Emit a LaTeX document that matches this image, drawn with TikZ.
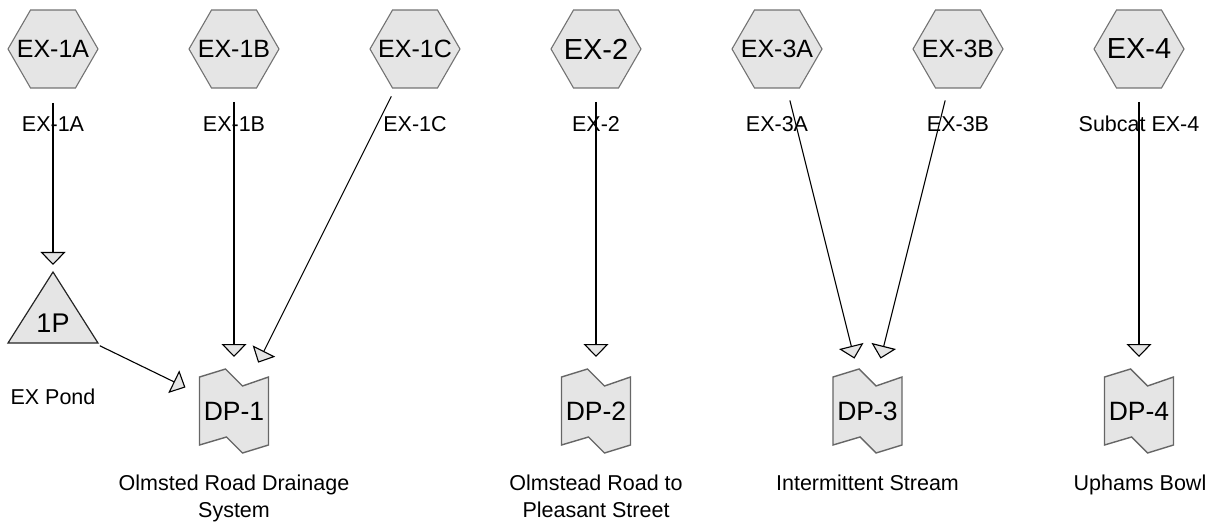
\documentclass[tikz,border=0pt]{standalone}
\usepackage{fontspec}
\setmainfont{Liberation Sans}
\usetikzlibrary{arrows.meta,backgrounds,calc,shapes.geometric}

\begin{document}
\begin{tikzpicture}[x=1pt,y=-1pt,
  subcat/.style={regular polygon,regular polygon sides=6,minimum size=90pt,inner sep=0pt,outer sep=0pt,draw=black!55,line width=1.1pt,fill=gray!20},
  lbl/.style={anchor=base,inner sep=0pt,font=\fontsize{21.5}{26.5}\selectfont},
  reach/.style={inner sep=0pt,font=\fontsize{26.5}{32}\selectfont},
  reachline/.style={draw=black!60,line width=1.4pt,fill=gray!20},
  pondline/.style={draw=black!85,line width=1.2pt,fill=gray!20},
  flow/.style={line width=1.1pt,-{Triangle[width=25pt,length=13pt,fill=gray!20]},shorten <=53pt,shorten >=54pt}]
\useasboundingbox (0,0) rectangle (1217,529);

% subcatchments and their labels
\foreach \x/\n/\t/\s/\l in {53/ex1a/EX-1A/25/EX-1A, 234/ex1b/EX-1B/25/EX-1B, 415/ex1c/EX-1C/25/EX-1C,
  596/ex2/EX-2/29/EX-2, 777/ex3a/EX-3A/25/EX-3A, 958/ex3b/EX-3B/25/EX-3B, 1139/ex4/EX-4/29/Subcat EX-4}{
  \node[subcat,font=\fontsize{\s}{\s}\selectfont] (\n) at (\x,49) {\makebox[0pt]{\t}};
  \node[lbl] (\n-lbl) at (\x,132) {\l};
}

% pond
\node[reach,font=\fontsize{27}{32}\selectfont] (p1) at (53,323) {1P};
\node[lbl] (p1-lbl) at (53,404) {EX Pond};

% reaches
\node[reach] (dp1) at (234,411) {DP-1};
\node[reach] (dp2) at (596,411) {DP-2};
\node[reach] (dp3) at (867.5,411) {DP-3};
\node[reach] (dp4) at (1139,411) {DP-4};
\node[lbl,anchor=north,align=center] (dp1-lbl) at (234,475) {Olmsted Road Drainage\\System};
\node[lbl,anchor=north,align=center] (dp2-lbl) at (596,475) {Olmstead Road to\\Pleasant Street};
\node[lbl,anchor=north] (dp3-lbl) at (867.5,475) {Intermittent Stream};
\node[lbl,anchor=north] (dp4-lbl) at (1140,475) {Uphams Bowl};

\begin{scope}[on background layer]
\draw[pondline] ($(p1)+(0,-51)$) -- ($(p1)+(45,20)$) -- ($(p1)+(-45,20)$) -- cycle;
\foreach \n in {dp1,dp2,dp3,dp4}
  \draw[reachline,shift={(\n.center)}] (-34.5,-34) -- (-8.5,-42) -- (8.5,-25) -- (34.5,-34)
    -- (34.5,34) -- (8.5,42) -- (-7.5,26) -- (-34.5,34) -- cycle;
\end{scope}

% flows
\draw[flow,shorten <=54pt,shorten >=58pt] (ex1a.center) -- (p1.center);
\draw[flow,shorten <=52pt] (p1.center) -- (dp1.center);
\draw[flow] (ex1b.center) -- (dp1.center);
\draw[flow] (ex1c.center) -- (dp1.center);
\draw[flow] (ex2.center) -- (dp2.center);
\draw[flow] (ex3a.center) -- (dp3.center);
\draw[flow] (ex3b.center) -- (dp3.center);
\draw[flow] (ex4.center) -- (dp4.center);
\end{tikzpicture}
\end{document}
